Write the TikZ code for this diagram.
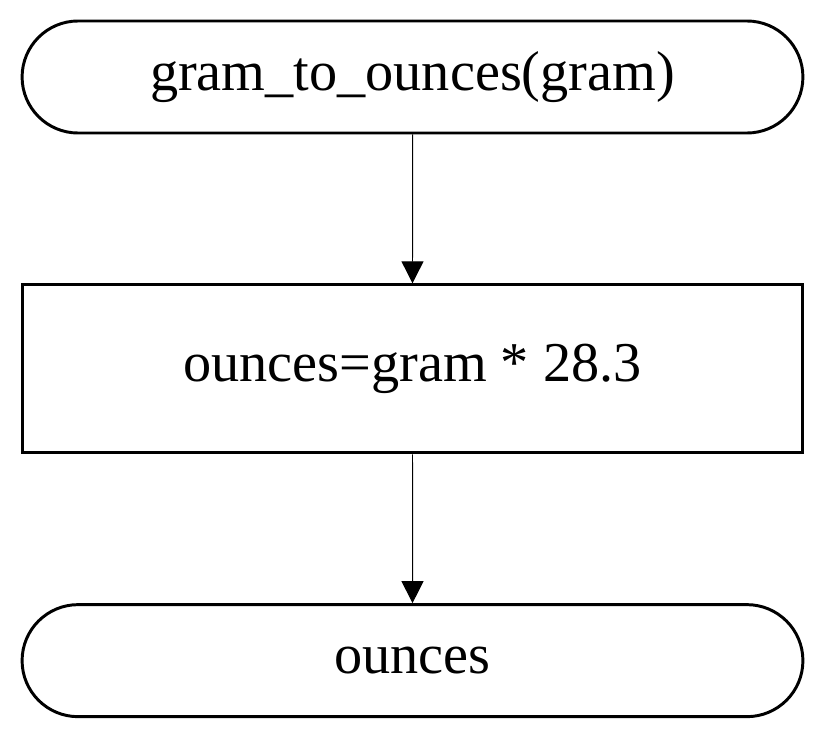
\documentclass[tikz,border=0pt]{standalone}
\usepackage{fontspec}
\setmainfont{Liberation Serif}
\usetikzlibrary{arrows.meta,positioning,shapes.misc}

\begin{document}
\begin{tikzpicture}[
    x=0.025cm, y=-0.025cm,
    % Define styles
    terminal/.style={rounded rectangle, draw, line width=2.1pt, minimum width=19.75cm, minimum height=2.8cm, font=\fontsize{40}{48}\selectfont},
    process/.style={rectangle, draw, line width=2.1pt, minimum width=19.5cm, minimum height=4.2cm, font=\fontsize{40}{48}\selectfont},
    arrow/.style={-{Triangle[width=0.55cm, length=0.55cm]}, line width=0.7pt},
    node distance=3.72cm
]
\useasboundingbox (0,0) rectangle (825,736);

% Start
\node[terminal] (start) at (412.5,77) {gram\_to\_ounces(gram)};

% Computation
\node[process, below=of start] (calc) {ounces=gram * 28.3};

% Result
\node[terminal, below=of calc] (result) {ounces};

% Connections
\draw[arrow] (start) -- (calc);
\draw[arrow] (calc) -- (result);

\end{tikzpicture}
\end{document}
